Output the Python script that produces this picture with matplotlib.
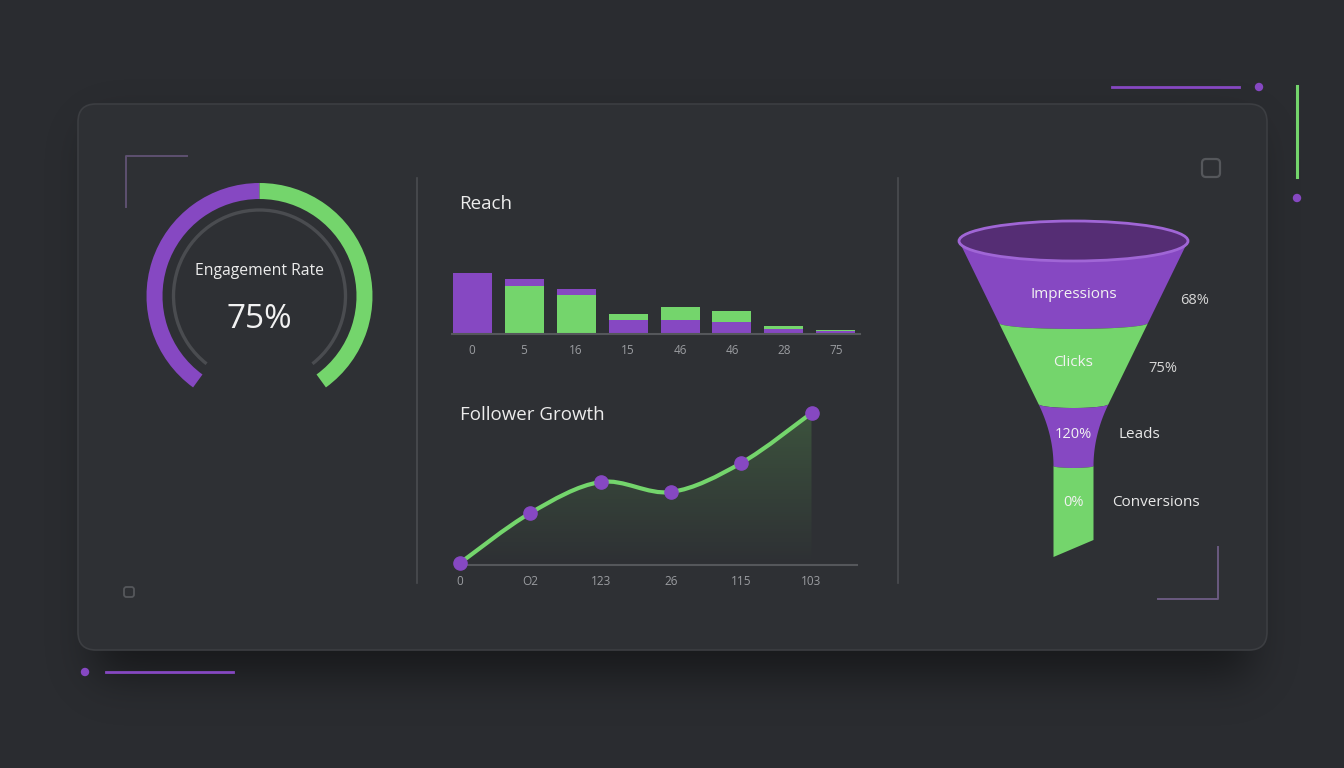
import numpy as np
import matplotlib
matplotlib.use("Agg")
import matplotlib.pyplot as plt
from matplotlib.patches import FancyBboxPatch, Wedge, Arc, Ellipse, Polygon, PathPatch, Circle
from matplotlib.path import Path

plt.rcParams['font.family'] = ['Open Sans', 'DejaVu Sans']

# ---- data ----
gauge_label = "Engagement Rate"
gauge_value = "75%"
gauge_split = [0.5, 0.5]          # purple / green share of the ring

reach_labels = ["0", "5", "16", "15", "46", "46", "28", "75"]
reach_purple_low = [61, 0, 0, 14, 14, 12, 5, 3]
reach_green = [0, 48, 39, 6, 13, 11, 3, 1]
reach_purple_top = [0, 7, 6, 0, 0, 0, 0, 0]

growth_labels = ["0", "O2", "123", "26", "115", "103"]
growth_values = [2, 52, 83, 73, 102, 152]

funnel_stages = ["Impressions", "Clicks", "Leads", "Conversions"]
funnel_pcts = ["68%", "75%", "120%", "0%"]

# ---- colours ----
BG = "#2a2c30"
CARD = "#2e3034"
PURPLE = "#8648c2"
GREEN = "#74d56c"
GRID = "#4a4c50"
TXT = "#ececec"
TICK = "#9a9ca0"

W, H = 1344, 768
fig = plt.figure(figsize=(W / 100, H / 100), dpi=100)
fig.patch.set_facecolor(BG)
ax = fig.add_axes([0, 0, 1, 1])
ax.set_xlim(0, W)
ax.set_ylim(H, 0)
ax.axis("off")

# soft shadow under the card (blurred mask)
mask = np.zeros((H, W))
mask[130:675, 95:1250] = 1.0
sig = 22
k = np.exp(-0.5 * (np.arange(-3 * sig, 3 * sig + 1) / sig) ** 2)
k /= k.sum()
mask = np.apply_along_axis(lambda r: np.convolve(r, k, mode="same"), 1, mask)
mask = np.apply_along_axis(lambda c: np.convolve(c, k, mode="same"), 0, mask)
shadow = np.zeros((H, W, 4))
shadow[..., 3] = mask * 0.45
ax.imshow(shadow, extent=[0, W, H, 0], origin="upper", aspect="auto", zorder=0)
ax.set_xlim(0, W)
ax.set_ylim(H, 0)

ax.add_patch(FancyBboxPatch((78, 104), 1189, 546, boxstyle="round,pad=0,rounding_size=18",
                            fc=CARD, ec="#3c3e42", lw=1.2, zorder=1))

# decorations
ax.plot([1112, 1239], [87, 87], color=PURPLE, lw=2)
ax.add_patch(Circle((1259, 87), 3.5, color=PURPLE))
ax.plot([1297, 1297], [86, 177], color=GREEN, lw=2.2)
ax.add_patch(Circle((1297, 198), 3.5, color=PURPLE))
ax.add_patch(Circle((85, 672), 3.5, color=PURPLE))
ax.plot([106, 233], [672, 672], color=PURPLE, lw=2)
ax.plot([187, 126, 126], [156, 156, 207], color="#5e5070", lw=1.4, zorder=2)
ax.plot([1158, 1218, 1218], [599, 599, 547], color="#6a5a80", lw=1.4, zorder=2)
ax.add_patch(FancyBboxPatch((1202, 159), 18, 18, boxstyle="round,pad=0,rounding_size=4",
                            fc="none", ec="#55575b", lw=1.6, zorder=2))
ax.add_patch(FancyBboxPatch((124, 587), 10, 10, boxstyle="round,pad=0,rounding_size=2.5",
                            fc="none", ec="#55575b", lw=1.3, zorder=2))
for x in (417, 898):
    ax.plot([x, x], [178, 583], color=GRID, lw=1.2, zorder=2)

# ---- gauge ----
gcx, gcy, gr = 259.5, 296, 113
span = 288.0
start = 234.0  # visual angle where ring starts (bottom left), goes clockwise
a_split = start - span * gauge_split[0]
# y axis is inverted, so visual angle a -> data angle -a
ax.add_patch(Wedge((gcx, gcy), gr, -start, -a_split, width=16, fc=PURPLE, ec="none", zorder=2))
ax.add_patch(Wedge((gcx, gcy), gr, -a_split, -(start - span), width=16, fc=GREEN, ec="none", zorder=2))
ax.add_patch(Arc((gcx, gcy), 2 * 86, 2 * 86, theta1=-start + 2, theta2=-(start - span) - 2,
                 color="#4a4c50", lw=2.4, zorder=2))
ax.text(gcx, 271, gauge_label, ha="center", va="center", fontsize=11.3, color=TXT)
ax.text(gcx, 320, gauge_value, ha="center", va="center", fontsize=24, color="#f2f2f2")

# ---- reach bars ----
ax.text(459, 204, "Reach", ha="left", va="center", fontsize=13.5, color=TXT)
axb = fig.add_axes([452 / W, 1 - 334 / H, (860 - 452) / W, 70 / H])
axb.set_facecolor("none")
xb = np.arange(len(reach_labels))
sp = 52.0
axb.set_xlim(-20 / sp, (860 - 472) / sp)
axb.set_ylim(0, 70)
low = np.array(reach_purple_low)
grn = np.array(reach_green)
top = np.array(reach_purple_top)
bw = 39 / sp
axb.bar(xb, low, width=bw, color=PURPLE)
axb.bar(xb, grn, width=bw, bottom=low, color=GREEN)
axb.bar(xb, top, width=bw, bottom=low + grn, color=PURPLE)
for s in ("top", "right", "left"):
    axb.spines[s].set_visible(False)
axb.spines["bottom"].set_color("#55575b")
axb.spines["bottom"].set_linewidth(1.5)
axb.set_yticks([])
axb.set_xticks(xb)
axb.set_xticklabels(reach_labels)
axb.tick_params(axis="x", length=0, pad=7, labelsize=8.5, labelcolor=TICK)

# ---- follower growth ----
ax.text(460, 415, "Follower Growth", ha="left", va="center", fontsize=13.5, color=TXT)
gsp = 70.3
axl = fig.add_axes([455 / W, 1 - 565 / H, (857 - 455) / W, 165 / H])
axl.set_facecolor("none")
xl = np.arange(len(growth_values), dtype=float)
yl = np.array(growth_values, dtype=float)
pts = np.column_stack([xl, yl])
ext = np.vstack([pts[0], pts, pts[-1]])
verts = [tuple(pts[0])]
codes = [Path.MOVETO]
for i in range(len(pts) - 1):
    p0, p1, p2, p3 = ext[i], ext[i + 1], ext[i + 2], ext[i + 3]
    c1 = p1 + (p2 - p0) / 6
    c2 = p2 - (p3 - p1) / 6
    verts += [tuple(c1), tuple(c2), tuple(p2)]
    codes += [Path.CURVE4] * 3
line_path = Path(verts, codes)
fill_path = Path(verts + [(xl[-1], 0), (xl[0], 0), (xl[0], yl[0])],
                 codes + [Path.LINETO, Path.LINETO, Path.CLOSEPOLY])
clip = PathPatch(fill_path, fc="none", ec="none", transform=axl.transData)
axl.add_patch(clip)
grad = np.zeros((100, 2, 4))
grad[..., 0] = 0.36
grad[..., 1] = 0.62
grad[..., 2] = 0.32
grad[..., 3] = (np.linspace(0.32, 0.0, 100) ** 1.0)[:, None]
im = axl.imshow(grad, extent=[xl[0], xl[-1], 0, yl.max()], origin="upper",
                aspect="auto", interpolation="bilinear", zorder=1)
im.set_clip_path(clip)
axl.add_patch(PathPatch(line_path, fc="none", ec=GREEN, lw=3, zorder=2, capstyle="round"))
axl.plot(xl, yl, "o", ms=9.5, color=PURPLE, zorder=3, clip_on=False)
for s in ("top", "right", "left"):
    axl.spines[s].set_visible(False)
axl.spines["bottom"].set_color("#55575b")
axl.spines["bottom"].set_linewidth(1.5)
axl.set_yticks([])
axl.set_xticks(xl)
axl.set_xticklabels(growth_labels)
axl.tick_params(axis="x", length=0, pad=7.5, labelsize=8.5, labelcolor=TICK)
axl.set_xlim(-5 / gsp, (857 - 460) / gsp)
axl.set_ylim(0, 165)

# ---- funnel ----
fcx = 1073.5
edge_y = [241, 323, 404, 466, 557]
sags = [20, 6, 4, 2]


def half_w(y):
    if y <= 403:
        return 114.5 - (y - 241) * (79.0 / 162.0)
    if y <= 466:
        t = (y - 403) / 63.0
        return 20 + 15.5 * (1 - t) ** 2
    return 20.0


def arc_pts(y0, s, reverse=False):
    th = np.linspace(np.pi, 0, 40)
    hw = half_w(y0)
    p = np.column_stack([fcx + hw * np.cos(th), y0 + s * np.sin(th)])
    return p[::-1] if reverse else p


colors = [PURPLE, GREEN, PURPLE, GREEN]
for k in range(4):
    y0, y1 = edge_y[k], edge_y[k + 1]
    top_arc = arc_pts(y0, sags[k])
    ys = np.linspace(y0, y1, 30)
    right = np.column_stack([[fcx + half_w(y) for y in ys], ys])
    left = np.column_stack([[fcx - half_w(y) for y in ys], ys])[::-1]
    if k < 3:
        bottom = arc_pts(y1, sags[k + 1], reverse=True)
        poly = np.vstack([top_arc, right, bottom, left])
    else:
        right[:, 1] = np.linspace(y0, 540, 30)
        poly = np.vstack([top_arc, right, left])
    ax.add_patch(Polygon(poly, closed=True, fc=colors[k], ec="none", zorder=2))

ax.add_patch(Ellipse((fcx, 241), 229, 40, fc="#552d74", ec="#a066d6", lw=2, zorder=3))

ax.text(fcx, 294, funnel_stages[0], ha="center", va="center", fontsize=11, color="#f2f2f2", zorder=4)
ax.text(1195, 300, funnel_pcts[0], ha="center", va="center", fontsize=10.5, color="#d6d6d6")
ax.text(fcx, 362, funnel_stages[1], ha="center", va="center", fontsize=11, color="#f2f2f2", zorder=4)
ax.text(1163, 368, funnel_pcts[1], ha="center", va="center", fontsize=10.5, color="#d6d6d6")
ax.text(fcx, 435, funnel_pcts[2], ha="center", va="center", fontsize=10.5, color="#f2f2f2", zorder=4)
ax.text(1118, 435, funnel_stages[2], ha="left", va="center", fontsize=11, color="#e8e8e8")
ax.text(fcx, 503, funnel_pcts[3], ha="center", va="center", fontsize=10.5, color="#f2f2f2", zorder=4)
ax.text(1112, 503, funnel_stages[3], ha="left", va="center", fontsize=11, color="#e8e8e8")

fig.savefig("out.png", dpi=100, facecolor=BG)
